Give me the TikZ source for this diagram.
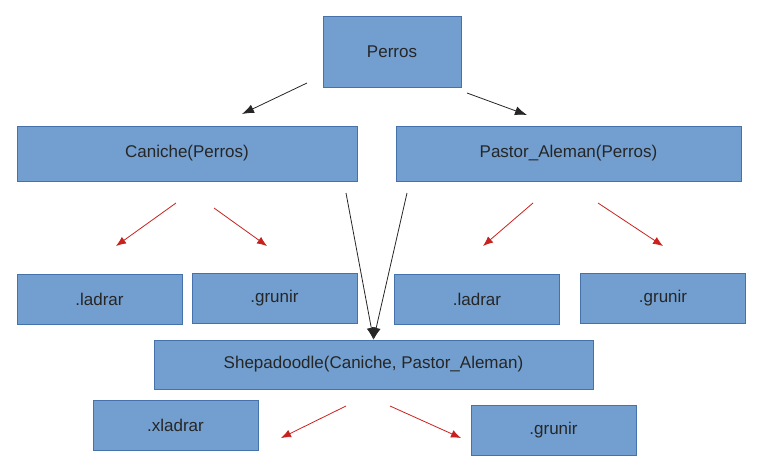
\documentclass[tikz,border=0pt]{standalone}
\usepackage{fontspec}
\setmainfont{Liberation Sans}
\usepackage{tikz}
\usetikzlibrary{arrows.meta}

\definecolor{boxblue}{RGB}{114,159,207}
\definecolor{boxline}{RGB}{69,114,170}
\definecolor{arrowred}{RGB}{201,33,30}

\begin{document}
\begin{tikzpicture}[x=1pt, y=-1pt, >=Latex,
  clase/.style={rectangle, fill=boxblue, draw=boxline, line width=0.6pt,
    inner sep=0pt, text=black!85, font=\fontsize{17}{20}\selectfont},
  hereda/.style={->, line width=0.8pt, black!85,
    arrows={-Latex[length=12pt, width=9pt]}},
  metodo/.style={->, line width=0.8pt, arrowred,
    arrows={-Latex[length=10pt, width=8pt]}}]

\useasboundingbox (0,0) rectangle (768,461);

% -------------------------------------------------------
% 1. Classes
% -------------------------------------------------------
\node[clase, minimum width=138pt, minimum height=71pt] (perros) at (392,51.5) {Perros};

\node[clase, minimum width=340pt, minimum height=55pt] (caniche) at (187,153.5) {Caniche(Perros)};
\node[clase, minimum width=345pt, minimum height=55pt] (pastor) at (568.5,153.5) {Pastor\_Aleman(Perros)};

\node[clase, minimum width=439pt, minimum height=49pt] (shepa) at (373.5,364.5) {Shepadoodle(Caniche, Pastor\_Aleman)};

% -------------------------------------------------------
% 2. Methods
% -------------------------------------------------------
\foreach \nombre/\x/\y/\texto in {ladrarA/99.5/299/.ladrar, grunirA/274.5/298.5/.grunir,
    ladrarB/477/299/.ladrar, grunirB/663/298/.grunir,
    xladrar/175.5/425.5/.xladrar, grunirC/553.5/430/.grunir} {
  \node[clase, minimum width=165pt, minimum height=50pt] (\nombre) at (\x,\y) {\texto};
}

% -------------------------------------------------------
% 3. Inheritance arrows
% -------------------------------------------------------
\coordinate (p1) at (307,83);
\coordinate (p2) at (242,114);
\coordinate (p3) at (467,93);
\coordinate (p4) at (527,115);
\coordinate (c1) at (346,193);
\coordinate (c2) at (407,193);

\draw[hereda] (p1) -- (p2);
\draw[hereda] (p3) -- (p4);
\draw[hereda] (c1) -- (shepa.north);
\draw[hereda] (c2) -- (shepa.north);

% -------------------------------------------------------
% 4. Method arrows (red)
% -------------------------------------------------------
\foreach \xa/\ya/\xb/\yb [count=\i] in {176/203/116/246, 214/208/267/246,
    533/203/483/246, 598/203/663/246, 346/406/281/438, 390/406/461/438} {
  \coordinate (m\i s) at (\xa,\ya);
  \coordinate (m\i e) at (\xb,\yb);
  \draw[metodo] (m\i s) -- (m\i e);
}

\end{tikzpicture}
\end{document}
